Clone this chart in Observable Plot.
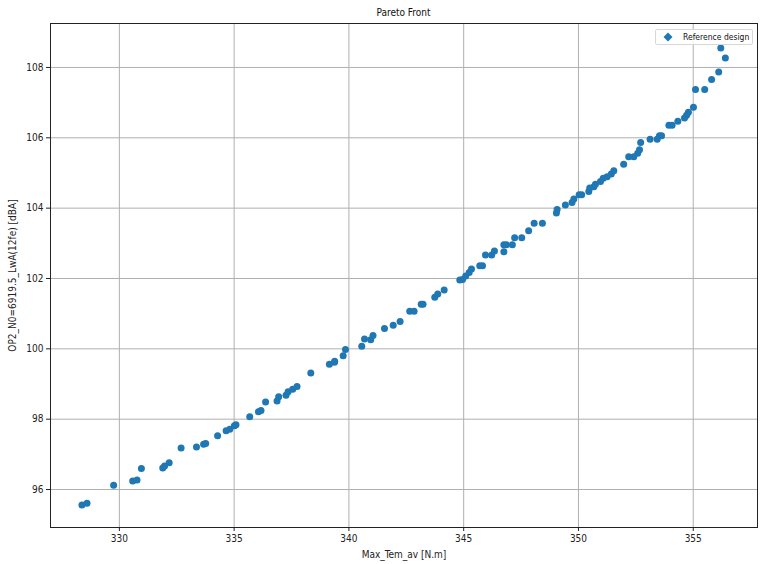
<!DOCTYPE html>
<html>
<head>
<meta charset="utf-8">
<script src="https://cdn.jsdelivr.net/npm/d3@7"></script>
<script src="https://cdn.jsdelivr.net/npm/@observablehq/plot@0.6"></script>
<style>
  body { margin: 0; background: #fff; font-family: "Liberation Sans Narrow", "DejaVu Sans Condensed", "Liberation Sans", sans-serif; }
  #wrap { position: relative; width: 768px; height: 564px; }
  #title { height: 20px; line-height: 26px; font-size: 10px; color: #111; text-align: center; padding-left: 39px; box-sizing: border-box; }
  #legend { position: absolute; left: 655px; top: 29px; width: 96px; height: 14px; border: 1px solid #d8d8d8; border-radius: 2px; background: rgba(255,255,255,0.85); font-size: 8.5px; color: #111; line-height: 14px; }
  #legend svg { position: absolute; left: 7px; top: 2px; }
  #legend span { position: absolute; left: 27px; top: 0; }
</style>
</head>
<body>
<div id="wrap">
  <div id="title">Pareto Front</div>
  <div id="chart"></div>
  <div id="legend"><svg width="10" height="10"><path d="M5,0.5 L9.5,5 L5,9.5 L0.5,5 Z" fill="#1f77b4"/></svg><span>Reference design</span></div>
</div>
<script>
const torque = [
  328.37, 328.59, 329.75, 330.58, 330.77, 330.96, 331.89, 331.97, 332.17, 332.69,
  333.36, 333.67, 333.76, 334.28, 334.65, 334.81, 335.01, 335.08, 335.68, 336.06,
  336.17, 336.37, 336.87, 336.94, 337.26, 337.35, 337.55, 337.74, 338.34, 339.15,
  339.37, 339.38, 339.75, 339.85, 340.56, 340.68, 340.95, 341.05, 341.55, 341.93,
  342.23, 342.65, 342.84, 343.15, 343.23, 343.74, 343.87, 344.15, 344.83, 344.95,
  345.09, 345.24, 345.34, 345.70, 345.82, 345.95, 346.22, 346.34, 346.75, 346.75,
  346.86, 347.12, 347.22, 347.53, 347.83, 348.07, 348.43, 349.04, 349.07, 349.43,
  349.72, 349.80, 350.03, 350.14, 350.45, 350.49, 350.67, 350.74, 350.96, 351.08,
  351.25, 351.43, 351.54, 351.97, 352.19, 352.41, 352.58, 352.66, 352.71, 353.12,
  353.43, 353.53, 353.62, 353.94, 354.08, 354.33, 354.62, 354.71, 354.79, 355.01,
  355.10, 355.50, 355.80, 356.11, 356.20, 356.40
];
const noise = [
  95.56, 95.61, 96.12, 96.24, 96.27, 96.60, 96.61, 96.67, 96.76, 97.18,
  97.21, 97.29, 97.31, 97.53, 97.67, 97.71, 97.81, 97.84, 98.07, 98.21,
  98.25, 98.49, 98.52, 98.64, 98.68, 98.78, 98.85, 98.93, 99.31, 99.56,
  99.62, 99.65, 99.80, 99.98, 100.07, 100.28, 100.26, 100.38, 100.58, 100.67,
  100.78, 101.07, 101.07, 101.27, 101.27, 101.47, 101.56, 101.67, 101.96, 101.97,
  102.07, 102.17, 102.27, 102.36, 102.36, 102.67, 102.67, 102.78, 102.76, 102.96,
  102.96, 102.96, 103.16, 103.16, 103.36, 103.57, 103.57, 103.86, 103.96, 104.09,
  104.16, 104.26, 104.38, 104.38, 104.47, 104.57, 104.61, 104.68, 104.76, 104.85,
  104.89, 104.97, 105.06, 105.25, 105.46, 105.46, 105.56, 105.66, 105.87, 105.96,
  105.96, 106.06, 106.06, 106.36, 106.36, 106.47, 106.56, 106.64, 106.73, 106.87,
  107.37, 107.37, 107.66, 107.87, 108.55, 108.27
];
const xTicks = [330, 335, 340, 345, 350, 355];
const yTicks = [96, 98, 100, 102, 104, 106, 108];

const data = torque.map((x, i) => ({x, y: noise[i]}));

const chart = Plot.plot({
  width: 768,
  height: 544,
  marginTop: 3,
  marginBottom: 37,
  marginLeft: 50,
  marginRight: 11,
  style: {fontFamily: '"Liberation Sans Narrow", "DejaVu Sans Condensed", "Liberation Sans", sans-serif', fontSize: "10px", color: "#222", background: "#fff"},
  x: {domain: [327.0, 357.8], ticks: xTicks, tickSize: 4, label: null},
  y: {domain: [94.92, 109.25], ticks: yTicks, tickSize: 4, label: null},
  marks: [
    Plot.gridX(xTicks, {stroke: "#b0b0b0", strokeOpacity: 1, strokeWidth: 1}),
    Plot.gridY(yTicks, {stroke: "#b0b0b0", strokeOpacity: 1, strokeWidth: 1}),
    Plot.axisX({ticks: xTicks, tickSize: 4, tickPadding: 3, label: "Max_Tem_av [N.m]", labelAnchor: "center", labelArrow: "none", labelOffset: 30}),
    Plot.axisY({ticks: yTicks, tickSize: 4, tickPadding: 3, label: "OP2_N0=6919.5_LwA(12fe) [dBA]", labelAnchor: "center", labelArrow: "none", labelOffset: 42}),
    Plot.dot(data, {x: "x", y: "y", r: 3.5, fill: "#1f77b4", stroke: null}),
    Plot.frame({stroke: "#222", strokeWidth: 1})
  ]
});
document.getElementById("chart").appendChild(chart);
</script>
</body>
</html>
